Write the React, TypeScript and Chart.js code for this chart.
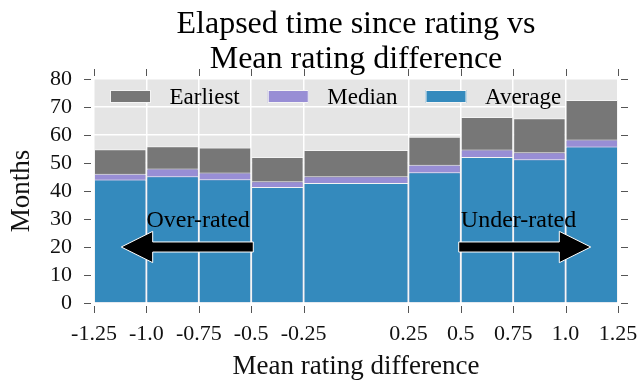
import React, { useEffect, useRef } from "react";
import { Chart, registerables } from "chart.js";

Chart.register(...registerables);

const FONT = "'Liberation Serif', 'Times New Roman', serif";

// Histogram bin edges along the mean rating difference
const binEdges = [-1.25, -1.0, -0.75, -0.5, -0.25, 0.25, 0.5, 0.75, 1.0, 1.25];

// Months elapsed since rating, one value per bin
const earliestMonths = [54.9, 56.0, 55.5, 52.1, 54.6, 59.4, 66.4, 66.0, 72.5];
const medianMonths = [46.2, 48.0, 46.6, 43.5, 45.3, 49.4, 54.8, 53.8, 58.4];
const averageMonths = [44.1, 45.3, 44.2, 41.4, 42.9, 46.7, 52.1, 51.3, 55.9];

const xTickValues = [-1.25, -1.0, -0.75, -0.5, -0.25, 0.25, 0.5, 0.75, 1.0, 1.25];
const xTickLabels = ["-1.25", "-1.0", "-0.75", "-0.5", "-0.25", "0.25", "0.5", "0.75", "1.0", "1.25"];
const yTickValues = [0, 10, 20, 30, 40, 50, 60, 70, 80];

const seriesNames = ["Earliest", "Median", "Average"];
const seriesColors = ["#777777", "#988ED5", "#348ABD"];

const titleLines = ["Elapsed time since rating vs", "Mean rating difference"];

// Direction notes: text anchor and arrow (data units)
const notes = [
  { text: "Over-rated", textX: -1.0, textY: 27.1, tail: -0.49, tip: -1.12, y: 20 },
  { text: "Under-rated", textX: 0.5, textY: 27.1, tail: 0.49, tip: 1.12, y: 20 },
];
const arrowHeadLength = 0.15;
const arrowHeadHalfWidth = 5.6;
const arrowShaftHalfWidth = 1.8;

const binData = (values: number[]) =>
  values.map((v, i) => ({ x: (binEdges[i] + binEdges[i + 1]) / 2, y: v }));

// Stretch each bar over its own bin on the linear x scale
const binWidthPlugin = {
  id: "binWidth",
  afterDatasetsUpdate(chart: any) {
    const xs = chart.scales.x;
    chart.data.datasets.forEach((_: any, di: number) => {
      const meta = chart.getDatasetMeta(di);
      meta.data.forEach((el: any, j: number) => {
        const l = xs.getPixelForValue(binEdges[j]);
        const r = xs.getPixelForValue(binEdges[j + 1]);
        el.x = (l + r) / 2;
        el.width = r - l;
      });
    });
  },
};

const plotBackgroundPlugin = {
  id: "plotBackground",
  beforeDraw(chart: any) {
    const { ctx, chartArea } = chart;
    ctx.save();
    ctx.fillStyle = "#E5E5E5";
    ctx.fillRect(chartArea.left, chartArea.top, chartArea.right - chartArea.left, chartArea.bottom - chartArea.top);
    ctx.restore();
  },
};

const decorPlugin = {
  id: "decor",
  afterDraw(chart: any) {
    const { ctx, chartArea } = chart;
    const { left, right, top, bottom } = chartArea;
    const xs = chart.scales.x;
    const ys = chart.scales.y;
    ctx.save();

    // outward tick marks on all four sides
    ctx.strokeStyle = "#555555";
    ctx.lineWidth = 1;
    const gap = 3;
    const len = 7;
    ctx.beginPath();
    xTickValues.forEach((v) => {
      const px = Math.round(xs.getPixelForValue(v)) + 0.5;
      ctx.moveTo(px, bottom + gap);
      ctx.lineTo(px, bottom + gap + len);
      ctx.moveTo(px, top - gap);
      ctx.lineTo(px, top - gap - len);
    });
    yTickValues.forEach((v) => {
      const py = Math.round(ys.getPixelForValue(v)) + 0.5;
      ctx.moveTo(left - gap, py);
      ctx.lineTo(left - gap - len, py);
      ctx.moveTo(right + gap, py);
      ctx.lineTo(right + gap + len, py);
    });
    ctx.stroke();

    // title
    ctx.fillStyle = "#000000";
    ctx.font = `32px ${FONT}`;
    ctx.textAlign = "center";
    ctx.textBaseline = "alphabetic";
    const cx = (left + right) / 2;
    ctx.fillText(titleLines[0], cx, 33);
    ctx.fillText(titleLines[1], cx, 68);

    // legend inside the plot, three columns
    ctx.font = `23px ${FONT}`;
    ctx.textAlign = "left";
    let lx = left + 16;
    const boxW = 41;
    const boxH = 13;
    const boxTop = top + 11;
    seriesNames.forEach((name, i) => {
      ctx.fillStyle = seriesColors[i];
      ctx.fillRect(lx, boxTop, boxW, boxH);
      ctx.strokeStyle = "#F4F4F4";
      ctx.lineWidth = 1;
      ctx.strokeRect(lx + 0.5, boxTop + 0.5, boxW - 1, boxH - 1);
      ctx.fillStyle = "#000000";
      const tx = lx + boxW + 18.5;
      ctx.fillText(name, tx, top + 25);
      lx = tx + ctx.measureText(name).width + 28;
    });

    // direction arrows with their labels
    ctx.font = `24px ${FONT}`;
    notes.forEach((n) => {
      ctx.fillStyle = "#000000";
      ctx.textAlign = "left";
      ctx.fillText(n.text, xs.getPixelForValue(n.textX), ys.getPixelForValue(n.textY));

      const y = ys.getPixelForValue(n.y);
      const tail = xs.getPixelForValue(n.tail);
      const tip = xs.getPixelForValue(n.tip);
      const dir = Math.sign(tip - tail);
      const headLen = Math.abs(xs.getPixelForValue(arrowHeadLength) - xs.getPixelForValue(0));
      const headHalf = Math.abs(ys.getPixelForValue(arrowHeadHalfWidth) - ys.getPixelForValue(0));
      const shaftHalf = Math.abs(ys.getPixelForValue(arrowShaftHalfWidth) - ys.getPixelForValue(0));
      const base = tip - dir * headLen;
      ctx.beginPath();
      ctx.moveTo(tail, y - shaftHalf);
      ctx.lineTo(base, y - shaftHalf);
      ctx.lineTo(base, y - headHalf);
      ctx.lineTo(tip, y);
      ctx.lineTo(base, y + headHalf);
      ctx.lineTo(base, y + shaftHalf);
      ctx.lineTo(tail, y + shaftHalf);
      ctx.closePath();
      ctx.fillStyle = "#000000";
      ctx.fill();
      ctx.strokeStyle = "#FFFFFF";
      ctx.lineWidth = 1;
      ctx.stroke();
    });

    ctx.restore();
  },
};

export default function App() {
  const canvasRef = useRef<HTMLCanvasElement>(null);

  useEffect(() => {
    const canvas = canvasRef.current;
    if (!canvas) return;

    const seriesValues = [earliestMonths, medianMonths, averageMonths];
    // Average first so it is painted on top, Earliest last so it sits underneath
    const datasets = [2, 1, 0].map((i) => ({
      label: seriesNames[i],
      data: binData(seriesValues[i]),
      backgroundColor: seriesColors[i],
      borderColor: "#F4F4F4",
      borderWidth: 1,
      borderSkipped: "start" as const,
      grouped: false,
    }));

    const chart = new Chart(canvas, {
      type: "bar",
      data: { datasets },
      options: {
        animation: false,
        responsive: false,
        devicePixelRatio: 1,
        layout: { padding: { top: 79, right: 21, left: 0, bottom: 0 } },
        plugins: {
          legend: { display: false },
          tooltip: { enabled: false },
          title: { display: false },
        },
        scales: {
          x: {
            type: "linear",
            min: -1.25,
            max: 1.25,
            offset: false,
            afterBuildTicks: (s: any) => {
              s.ticks = xTickValues.map((v) => ({ value: v }));
            },
            afterFit: (s: any) => {
              s.height = 78;
              s.paddingLeft = 0;
              s.paddingRight = 0;
            },
            ticks: {
              autoSkip: false,
              maxRotation: 0,
              minRotation: 0,
              padding: 18,
              color: "#111111",
              font: { family: FONT, size: 22 },
              callback: (_v: any, i: number) => xTickLabels[i],
            },
            grid: { color: "#FFFFFF", lineWidth: 1.5, drawTicks: false, offset: false },
            border: { display: false },
            title: {
              display: true,
              text: "Mean rating difference",
              color: "#111111",
              font: { family: FONT, size: 27, lineHeight: 1 },
              padding: { top: 0, bottom: 1 },
            },
          },
          y: {
            type: "linear",
            min: 0,
            max: 80,
            afterBuildTicks: (s: any) => {
              s.ticks = yTickValues.map((v) => ({ value: v }));
            },
            afterFit: (s: any) => {
              s.width = 94;
              s.paddingTop = 0;
              s.paddingBottom = 0;
            },
            ticks: {
              autoSkip: false,
              padding: 22,
              color: "#111111",
              font: { family: FONT, size: 22 },
            },
            grid: { color: "#FFFFFF", lineWidth: 1.5, drawTicks: false },
            border: { display: false },
            title: {
              display: true,
              text: "Months",
              color: "#111111",
              font: { family: FONT, size: 27, lineHeight: 1 },
              padding: { top: 8, bottom: 0 },
            },
          },
        },
      },
      plugins: [plotBackgroundPlugin, binWidthPlugin, decorPlugin],
    } as any);

    return () => chart.destroy();
  }, []);

  return (
    <div style={{ position: "fixed", left: 0, top: 0, width: 639, height: 381, background: "#FFFFFF" }}>
      <canvas ref={canvasRef} width={639} height={381} style={{ display: "block", width: 639, height: 381 }} />
    </div>
  );
}
